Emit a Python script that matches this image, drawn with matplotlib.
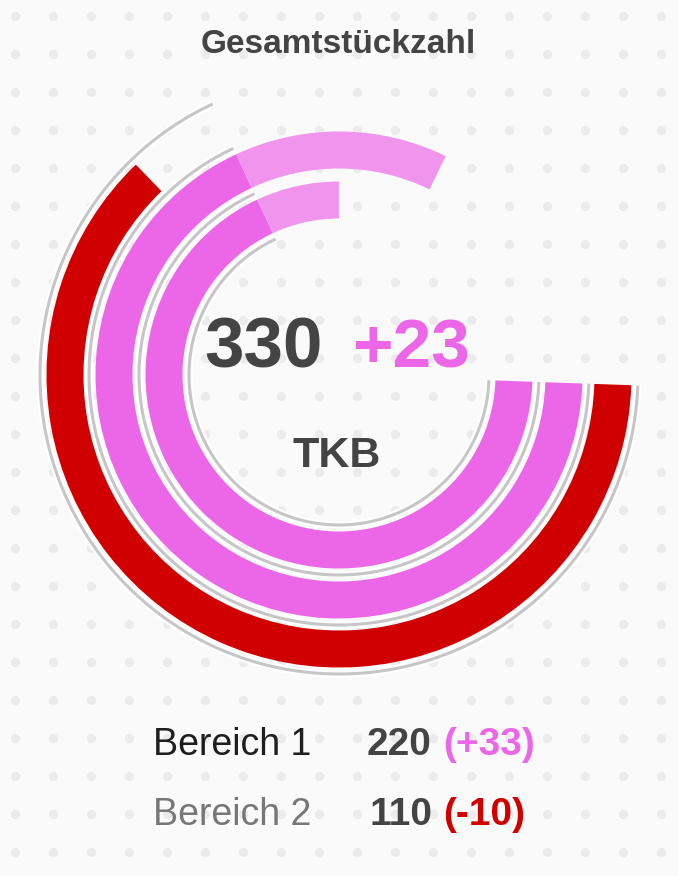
import numpy as np
import matplotlib
matplotlib.use("Agg")
import matplotlib.pyplot as plt
import matplotlib.patheffects as pe

# Data
ring_labels = ["TKB", "Bereich 1", "Bereich 2"]      # inner -> outer
ring_totals = [330, 220, 110]
ring_changes = [23, 33, -10]
previous_arc = [243, 243, 243]   # arc sweep of previous value (degrees)
current_arc = [268, 294, 224]    # arc sweep of current value (degrees)

title = "Gesamtstückzahl"

# colours
pink = "#eb67e8"
light_pink = "#f094ee"
red = "#d00000"
dark = "#444444"
track_grey = "#c6c6c6"
bg = "#fafafa"

W, H = 678, 876
fig = plt.figure(figsize=(W / 100, H / 100), dpi=100, facecolor=bg)

# dotted background
bg_ax = fig.add_axes([0, 0, 1, 1])
bg_ax.set_xlim(0, W)
bg_ax.set_ylim(H, 0)
bg_ax.axis("off")
gx, gy = np.meshgrid(np.arange(15, W, 38), np.arange(16, H, 38))
bg_ax.scatter(gx.ravel(), gy.ravel(), s=44, color="#eceaec", linewidths=0)

# polar axes, 1 data unit = 1 pixel
cx, cy, R = 339, 375, 310
ax = fig.add_axes([(cx - R) / W, (H - cy - R) / H, 2 * R / W, 2 * R / H],
                  projection="polar")
ax.set_theta_zero_location("E", offset=-2)
ax.set_theta_direction(-1)
ax.set_rlim(0, R)
ax.axis("off")

ring_r = [175, 225, 274]
bar_h = 37

# grey track lines between rings
halo = [pe.Stroke(linewidth=5.5, foreground="white"), pe.Normal()]
for r in [150, 200, 250, 299]:
    th = np.linspace(0, np.deg2rad(previous_arc[0]), 300)
    ax.plot(th, np.full_like(th, r), color=track_grey, lw=2.2,
            solid_capstyle="butt", path_effects=halo, zorder=2)

for r, prev, cur, chg in zip(ring_r, previous_arc, current_arc, ring_changes):
    if chg >= 0:
        ax.barh(r, np.deg2rad(prev), left=0, height=bar_h, color=pink,
                linewidth=0, zorder=3)
        ax.barh(r, np.deg2rad(cur - prev), left=np.deg2rad(prev),
                height=bar_h, color=light_pink, linewidth=0, zorder=3)
    else:
        ax.barh(r, np.deg2rad(cur), left=0, height=bar_h, color=red,
                linewidth=0, zorder=3)


def fx(x):
    return x / W


def fy(y):
    return 1 - y / H


font = "Liberation Sans"

fig.text(fx(338), fy(53), title, ha="center", va="baseline", fontsize=24,
         weight="bold", color=dark, family=font)

# centre text
fig.text(fx(323), fy(368), str(ring_totals[0]), ha="right", va="baseline",
         fontsize=51, weight="bold", color=dark, family=font)
fig.text(fx(352), fy(368), f"{ring_changes[0]:+d}", ha="left", va="baseline",
         fontsize=50, weight="bold", color=pink, family=font)
fig.text(fx(337), fy(467), ring_labels[0], ha="center", va="baseline",
         fontsize=31, weight="bold", color=dark, family=font)

# legend rows
label_cols = ["#1e1e1e", "#777777"]
for i, base in zip([1, 2], [755, 825]):
    chg = ring_changes[i]
    fig.text(fx(153), fy(base), ring_labels[i], ha="left", va="baseline",
             fontsize=27, color=label_cols[i - 1], family=font)
    fig.text(fx(432), fy(base), str(ring_totals[i]), ha="right",
             va="baseline", fontsize=28, weight="bold", color=dark,
             family=font)
    fig.text(fx(443), fy(base), f"({chg:+d})", ha="left", va="baseline",
             fontsize=28, weight="bold", color=pink if chg >= 0 else red,
             family=font)

fig.savefig("out.png", dpi=100, facecolor=bg)
